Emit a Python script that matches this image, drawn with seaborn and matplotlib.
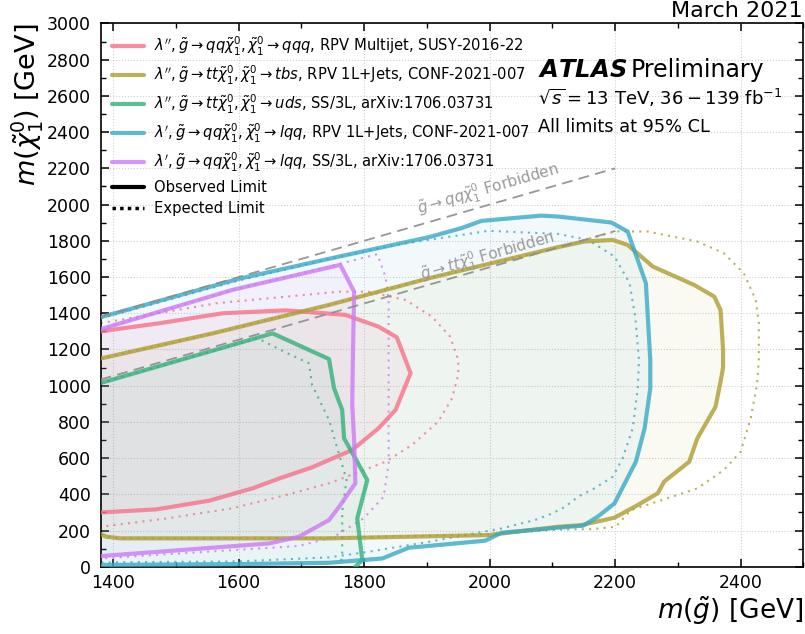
import numpy as np
import pandas as pd
import matplotlib
matplotlib.use("Agg")
import matplotlib.pyplot as plt
import seaborn as sns
from matplotlib.lines import Line2D

# ---------------- data ----------------
pink_obs_x = [1380, 1474, 1575, 1675, 1770, 1823, 1852, 1874, 1850, 1823, 1781, 1717, 1665, 1622, 1553, 1469, 1380]
pink_obs_y = [1300, 1345, 1400, 1416, 1391, 1326, 1267, 1069, 866, 765, 645, 549, 488, 433, 365, 317, 300]
pink_exp_x = [1380, 1564, 1760, 1807, 1866, 1908, 1937, 1950, 1950, 1940, 1918, 1876, 1834, 1786, 1744, 1675, 1590, 1485, 1380]
pink_exp_y = [1345, 1455, 1519, 1519, 1473, 1381, 1271, 1142, 1059, 930, 801, 672, 580, 516, 461, 396, 323, 267, 221]

olive_obs_x = [1380, 1560, 1744, 1903, 2109, 2151, 2196, 2220, 2260, 2326, 2358, 2368, 2372, 2372, 2368, 2360, 2331, 2318, 2278, 2268, 2236, 2199, 2146, 2109, 1998, 1744, 1411, 1389, 1380]
olive_obs_y = [1150, 1290, 1446, 1593, 1765, 1796, 1805, 1777, 1658, 1556, 1492, 1418, 1200, 1100, 1022, 884, 709, 580, 470, 406, 341, 271, 230, 221, 175, 157, 157, 166, 180]
olive_exp_x = [1380, 1560, 1744, 1903, 2109, 2200, 2252, 2331, 2373, 2405, 2424, 2429, 2429, 2426, 2416, 2400, 2373, 2331, 2283, 2225, 2201, 2162, 2109, 2000, 1744, 1411, 1389, 1380]
olive_exp_y = [1150, 1290, 1446, 1593, 1763, 1852, 1851, 1796, 1732, 1621, 1474, 1345, 1142, 1004, 820, 635, 534, 433, 378, 313, 221, 208, 205, 180, 160, 157, 166, 180]

green_obs_x = [1380, 1654, 1744, 1752, 1765, 1768, 1786, 1805, 1789, 1797, 1786]
green_obs_y = [1015, 1289, 1147, 986, 866, 709, 599, 479, 267, 37, 0]
green_exp_x = [1380, 1630, 1683, 1712, 1717, 1744, 1760, 1772, 1765, 1765, 1762]
green_exp_y = [1015, 1262, 1170, 1124, 1004, 811, 620, 480, 304, 65, 0]

blue_obs_x = [1380, 1600, 1760, 1903, 1955, 1987, 2082, 2109, 2194, 2220, 2249, 2256, 2256, 2247, 2233, 2199, 2172, 2149, 2109, 2019, 1993, 1871, 1829, 1744, 1600, 1380]
blue_obs_y = [1378, 1590, 1713, 1820, 1870, 1910, 1939, 1934, 1901, 1851, 1566, 1142, 986, 765, 580, 350, 276, 227, 216, 188, 144, 105, 46, 22, 15, 10]
blue_exp_x = [1380, 1600, 1744, 1850, 1998, 2109, 2157, 2199, 2223, 2232, 2238, 2236, 2228, 2212, 2196, 2167, 2141, 2120, 2100, 2072, 2019, 1903, 1807, 1744, 1600, 1380]
blue_exp_y = [1372, 1580, 1700, 1777, 1855, 1838, 1805, 1713, 1566, 1381, 1142, 986, 765, 599, 497, 433, 387, 331, 295, 258, 212, 138, 83, 52, 30, 24]

purple_obs_x = [1380, 1590, 1762, 1784, 1782, 1781, 1784, 1786, 1760, 1744, 1696, 1649, 1380]
purple_obs_y = [1312, 1529, 1667, 1519, 1142, 900, 700, 461, 331, 258, 166, 129, 59]
purple_exp_x = [1380, 1590, 1744, 1821, 1834, 1839, 1839, 1839, 1831, 1800, 1752, 1696, 1380]
purple_exp_y = [1312, 1529, 1658, 1726, 1602, 1473, 1142, 571, 387, 270, 166, 115, 46]

forbid_x = [1380, 2200]
forbid_offsets = [0, 346]  # qq: m_chi = m_g ; tt: m_chi = m_g - 2 m_t

labels = [
    r"$\lambda'', \tilde{g}\rightarrow qq\tilde{\chi}^0_1, \tilde{\chi}^0_1\rightarrow qqq$, RPV Multijet, SUSY-2016-22",
    r"$\lambda'', \tilde{g}\rightarrow tt\tilde{\chi}^0_1, \tilde{\chi}^0_1\rightarrow tbs$, RPV 1L+Jets, CONF-2021-007",
    r"$\lambda'', \tilde{g}\rightarrow tt\tilde{\chi}^0_1, \tilde{\chi}^0_1\rightarrow uds$, SS/3L, arXiv:1706.03731",
    r"$\lambda', \tilde{g}\rightarrow qq\tilde{\chi}^0_1, \tilde{\chi}^0_1\rightarrow lqq$, RPV 1L+Jets, CONF-2021-007",
    r"$\lambda', \tilde{g}\rightarrow qq\tilde{\chi}^0_1, \tilde{\chi}^0_1\rightarrow lqq$, SS/3L, arXiv:1706.03731",
]

# ---------------- plotting ----------------
sns.set_style("ticks")
plt.rcParams['font.family'] = ['DejaVu Sans']
plt.rcParams['mathtext.fontset'] = 'dejavusans'
plt.rcParams['text.color'] = 'black'
plt.rcParams['xtick.color'] = 'black'
plt.rcParams['ytick.color'] = 'black'
plt.rcParams['axes.labelcolor'] = 'black'

pal = sns.color_palette("husl", 5)

fig = plt.figure(figsize=(8.05, 6.34), dpi=100)
ax = fig.add_axes([0.125, 0.106, 0.873, 0.857])

series = [
    (pink_obs_x, pink_obs_y, pink_exp_x, pink_exp_y, False),
    (olive_obs_x, olive_obs_y, olive_exp_x, olive_exp_y, False),
    (green_obs_x, green_obs_y, green_exp_x, green_exp_y, True),
    (blue_obs_x, blue_obs_y, blue_exp_x, blue_exp_y, False),
    (purple_obs_x, purple_obs_y, purple_exp_x, purple_exp_y, False),
]

for i, (ox, oy, ex, ey, close_bottom) in enumerate(series):
    c = pal[i]
    fx, fy = list(ox), list(oy)
    if close_bottom:
        fx.append(1380); fy.append(0)
    ax.fill(fx, fy, color=c, alpha=0.06, lw=0, zorder=1)
    dfo = pd.DataFrame({"x": ox, "y": oy})
    dfe = pd.DataFrame({"x": ex, "y": ey})
    sns.lineplot(data=dfo, x="x", y="y", sort=False, estimator=None, color=c,
                 alpha=0.8, lw=3, ax=ax, zorder=3)
    sns.lineplot(data=dfe, x="x", y="y", sort=False, estimator=None, color=c,
                 alpha=0.8, lw=1.5, ls=(0, (1, 2.5)), ax=ax, zorder=2)

for off in forbid_offsets:
    fdf = pd.DataFrame({"x": forbid_x, "y": [v - off for v in forbid_x]})
    sns.lineplot(data=fdf, x="x", y="y", color="#8c8c8c", lw=1.3, ls=(0, (6, 3.5)),
                 ax=ax, zorder=5, alpha=0.9)

ax.text(1997, 2083, r"$\tilde{g}\rightarrow qq\tilde{\chi}_1^0$ Forbidden", color="#999999",
        fontsize=11, rotation=16, ha="center", va="center", zorder=6)
ax.text(1997, 1712, r"$\tilde{g}\rightarrow tt\tilde{\chi}_1^0$ Forbidden", color="#999999",
        fontsize=11, rotation=16, ha="center", va="center", zorder=6)

ax.set_xlim(1380, 2500)
ax.set_ylim(0, 3000)
ax.set_xticks(np.arange(1400, 2401, 200))
ax.set_yticks(np.arange(0, 3001, 200))
ax.set_xticks(np.arange(1400, 2501, 100), minor=True)
ax.set_yticks(np.arange(0, 3001, 100), minor=True)
ax.tick_params(which="both", direction="in", top=True, right=True, labelsize=12.5)
ax.tick_params(which="major", length=6, width=1.1)
ax.tick_params(which="minor", length=3.5, width=1)
ax.tick_params(axis="y", pad=7)
ax.tick_params(axis="x", pad=5)
ax.grid(True, which="major", ls=":", color="#d0d0d0", lw=0.8)
for s in ax.spines.values():
    s.set_linewidth(1.2)
    s.set_color("black")

ax.set_xlabel(r"$m(\tilde{g})$ [GeV]", fontsize=19, loc="right", labelpad=2)
ax.set_ylabel(r"$m(\tilde{\chi}_1^0)$ [GeV]", fontsize=19.5, loc="top", labelpad=1)

handles = [Line2D([0], [0], color=pal[i], alpha=0.8, lw=3) for i in range(5)]
handles += [Line2D([0], [0], color="black", lw=3),
            Line2D([0], [0], color="black", lw=2.5, ls=(0, (1, 1.2)))]
leg = ax.legend(handles, labels + ["Observed Limit", "Expected Limit"], loc="upper left",
                frameon=False, fontsize=10.6, handlelength=2.2, handletextpad=0.65,
                labelspacing=0.4, borderaxespad=0.35)
leg.set_zorder(10)

ax.text(0.622, 0.915, r"$\boldsymbol{ATLAS}$", transform=ax.transAxes, fontsize=17.5,
        ha="left", va="center")
ax.text(0.754, 0.915, "Preliminary", transform=ax.transAxes, fontsize=17,
        ha="left", va="center")
ax.text(0.622, 0.862, r"$\sqrt{s} = 13$ TeV, $36 - 139$ fb$^{-1}$", transform=ax.transAxes,
        fontsize=13, ha="left", va="center")
ax.text(0.622, 0.81, "All limits at 95% CL", transform=ax.transAxes, fontsize=12.8,
        ha="left", va="center")
fig.text(0.997, 0.983, "March 2021", fontsize=16, ha="right", va="center")

fig.savefig("out.png", dpi=100)
